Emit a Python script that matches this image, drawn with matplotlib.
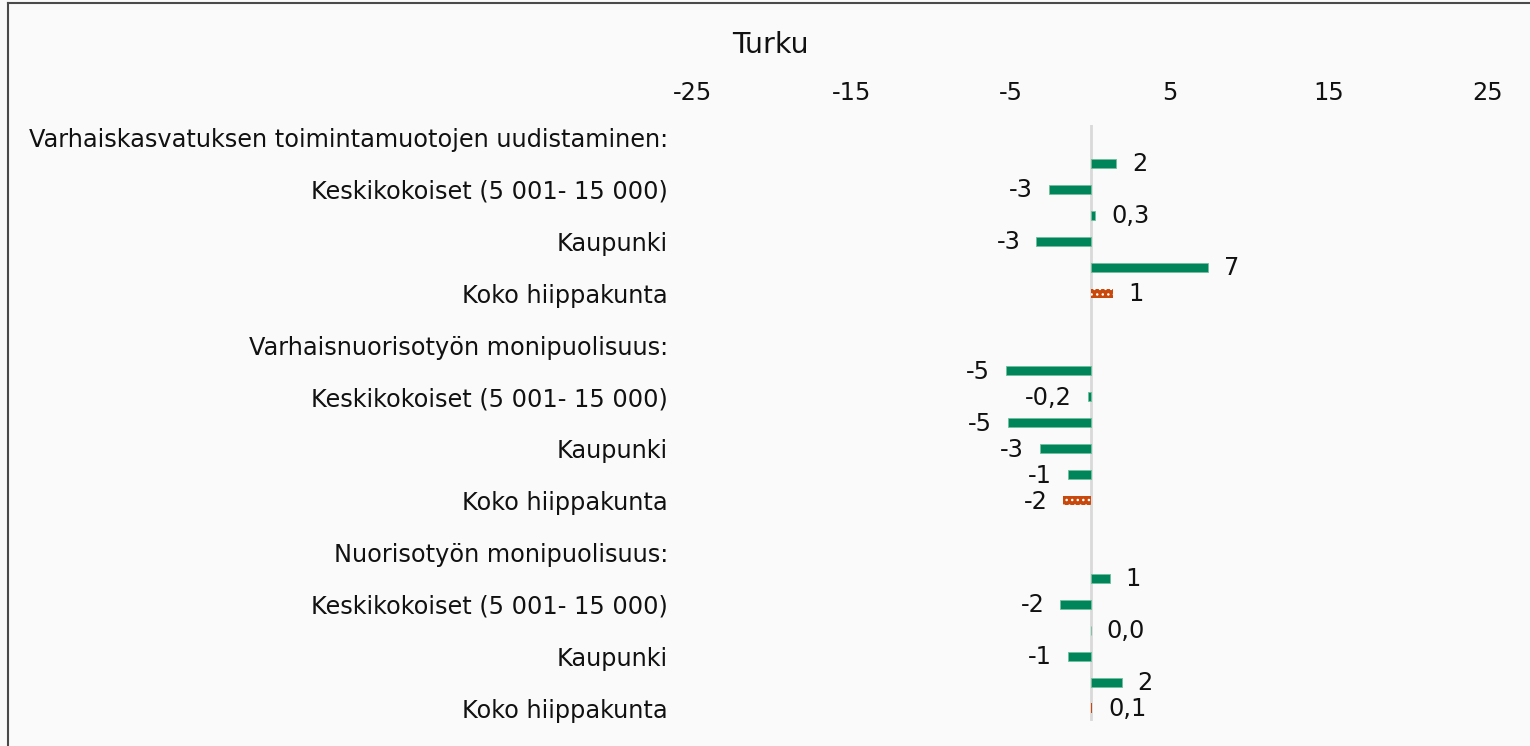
import numpy as np
import matplotlib
matplotlib.use("Agg")
import matplotlib.pyplot as plt
from matplotlib.lines import Line2D

title = "Turku"
categories = [
    "Varhaiskasvatuksen toimintamuotojen uudistaminen:", "",
    "Keskikokoiset (5 001- 15 000)", "",
    "Kaupunki", "",
    "Koko hiippakunta", "",
    "Varhaisnuorisotyön monipuolisuus:", "",
    "Keskikokoiset (5 001- 15 000)", "",
    "Kaupunki", "",
    "Koko hiippakunta", "",
    "Nuorisotyön monipuolisuus:", "",
    "Keskikokoiset (5 001- 15 000)", "",
    "Kaupunki", "",
    "Koko hiippakunta",
]
values = [np.nan, 1.6, -2.6, 0.3, -3.4, 7.4, 1.4, np.nan,
          np.nan, -5.3, -0.17, -5.2, -3.2, -1.4, -1.7, np.nan,
          np.nan, 1.2, -1.9, 0.0, -1.4, 1.95, 0.1]
highlight = [False, False, False, False, False, False, True, False,
             False, False, False, False, False, False, True, False,
             False, False, False, False, False, False, True]
xticks = [-25, -15, -5, 5, 15, 25]

GREEN = "#00845A"
ORANGE = "#C9480B"
BG = "#fafafa"
TXT = "#111111"
FS = 17.3

plt.rcParams['font.family'] = ['DejaVu Sans']

fig = plt.figure(figsize=(15.3, 7.46), dpi=100, facecolor=BG)
ax = fig.add_axes([693 / 1530, (746 - 721) / 746, 795 / 1530, 596.4 / 746])
ax.set_facecolor(BG)

y = np.arange(len(categories))
vals = np.array(values, dtype=float)
for i, (v, h) in enumerate(zip(vals, highlight)):
    if np.isnan(v):
        continue
    if h:
        ax.barh(i, v, height=0.35, color=ORANGE, edgecolor="white",
                linewidth=0, hatch="..." if abs(v) >= 0.5 else None, zorder=2)
    else:
        ax.barh(i, v, height=0.35, color=GREEN, edgecolor="#6fc09c",
                linewidth=0.6, zorder=2)
    if abs(v) < 1:
        lab = f"{v:.1f}".replace(".", ",")
    else:
        lab = f"{int(round(v))}"
    if v >= 0:
        ax.annotate(lab, (v, i), xytext=(16, -1), textcoords="offset pixels",
                    ha="left", va="center", fontsize=FS, color=TXT)
    else:
        ax.annotate(lab, (v, i), xytext=(-16, -1), textcoords="offset pixels",
                    ha="right", va="center", fontsize=FS, color=TXT)

ax.set_xlim(-25, 25)
ax.set_ylim(len(categories) - 0.5, -0.5)
ax.axvline(0, color="#d9d9d9", linewidth=2, zorder=1)

ax.set_yticks(y[::2])
ax.set_yticklabels(categories[::2], fontsize=FS, color=TXT)
ax.tick_params(axis="y", length=0, pad=18)
ax.xaxis.tick_top()
ax.set_xticks(xticks)
ax.set_xticklabels([str(t) for t in xticks], fontsize=FS, color=TXT)
ax.tick_params(axis="x", length=0, pad=14)
for s in ax.spines.values():
    s.set_visible(False)

fig.text(770 / 1530, 1 - 45 / 746, title, ha="center", va="center",
         fontsize=20.5, color=TXT)

# chart border (left and top edges visible)
fig.add_artist(Line2D([8 / 1530, 8 / 1530], [0, 1 - 3 / 746],
                      transform=fig.transFigure, color="#4a4a4a", linewidth=1.5))
fig.add_artist(Line2D([8 / 1530, 1], [1 - 3 / 746, 1 - 3 / 746],
                      transform=fig.transFigure, color="#4a4a4a", linewidth=1.5))

fig.savefig("out.png", dpi=100, facecolor=BG)
